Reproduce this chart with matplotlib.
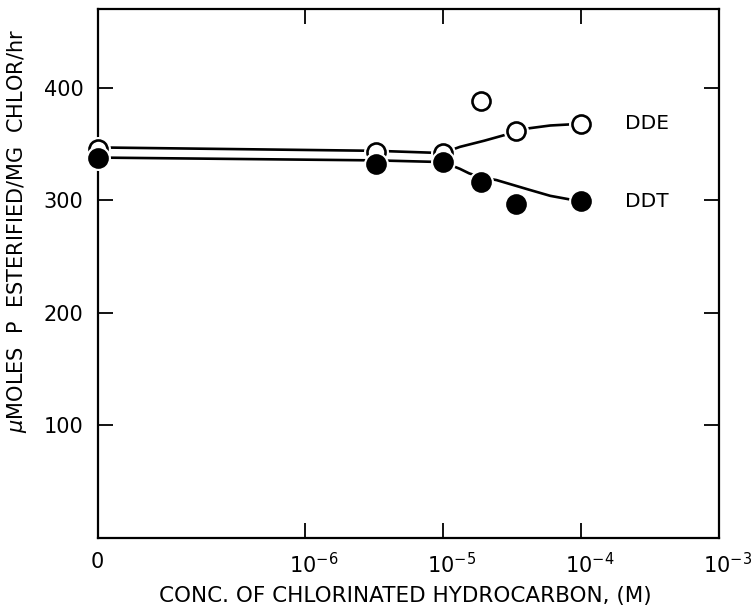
import matplotlib
matplotlib.use("Agg")
import matplotlib.pyplot as plt
import matplotlib.transforms as mtransforms
import numpy as np

# ---- data ----
ZERO_POS = 10 ** -7.5          # where the "0" concentration is drawn on the log axis
conc = [0, 3.3e-6, 1e-5, 1.9e-5, 3.4e-5, 1e-4]
dde = [346, 343, 342, 388, 362, 368]
ddt = [338, 332, 334, 316, 297, 299]

# hand-drawn fitted curves
dde_fit_x = [0, 3.3e-6, 1e-5, 1.33e-5, 2.0e-5, 2.8e-5, 3.4e-5, 4.2e-5, 6e-5, 1e-4]
dde_fit_y = [347, 344, 342, 347.5, 353, 358, 361.5, 364, 366.5, 368]
ddt_fit_x = [0, 3.3e-6, 1e-5, 1.33e-5, 1.55e-5, 1.9e-5, 2.45e-5, 4.2e-5, 6e-5, 1e-4]
ddt_fit_y = [338, 335.5, 334, 328, 324, 320.5, 318, 309.5, 304, 299]

xtick_vals = [0, 1e-6, 1e-5, 1e-4, 1e-3]
xtick_labels = ["0", "$10^{-6}$", "$10^{-5}$", "$10^{-4}$", "$10^{-3}$"]
ytick_vals = [100, 200, 300, 400]
series_labels = ["DDE", "DDT"]

plt.rcParams['font.family'] = ['DejaVu Sans']
plt.rcParams['mathtext.fontset'] = 'dejavusans'


def pos(v):
    return [ZERO_POS if x == 0 else x for x in v]


fig = plt.figure(figsize=(7.53, 6.10), dpi=100)
ax = fig.add_axes([97.5 / 753, 72 / 610, (719 - 97.5) / 753, (538 - 9) / 610])
ax.set_xscale('log')
ax.set_xlim(ZERO_POS, 1e-3)
ax.set_ylim(0, 470)

lw = 1.9
ax.plot(pos(dde_fit_x), dde_fit_y, color='black', lw=lw, zorder=2, solid_capstyle='butt')
ax.plot(pos(ddt_fit_x), ddt_fit_y, color='black', lw=lw, zorder=2, solid_capstyle='butt')

ms = 13
# white halos to make gaps between lines and markers
ax.plot(pos(conc), dde, 'o', ms=ms, mfc='white', mec='white', mew=5, zorder=3, clip_on=False)
ax.plot(pos(conc), dde, 'o', ms=ms, mfc='white', mec='black', mew=1.9, zorder=4, clip_on=False)
ax.plot(pos(conc), ddt, 'o', ms=ms, mfc='white', mec='white', mew=5, zorder=5, clip_on=False)
ax.plot(pos(conc), ddt, 'o', ms=ms, mfc='black', mec='black', mew=1.9, zorder=6, clip_on=False)

ax.text(10 ** -3.68, dde[-1], series_labels[0], fontsize=14.5, va='center', ha='left')
ax.text(10 ** -3.68, ddt[-1], series_labels[1], fontsize=14.5, va='center', ha='left')

ax.set_xticks(pos(xtick_vals))
ax.set_xticklabels(xtick_labels, fontsize=15)
ax.minorticks_off()
ax.set_yticks(ytick_vals)
ax.set_yticklabels([str(v) for v in ytick_vals], fontsize=15)
ax.tick_params(axis='both', direction='in', top=True, right=True, length=11, width=1.3)
ax.tick_params(axis='x', pad=10)
ax.tick_params(axis='y', pad=10)
# hide tick marks at the axis ends (they coincide with the frame)
for t in (ax.xaxis.get_major_ticks()[0], ax.xaxis.get_major_ticks()[-1]):
    t.tick1line.set_visible(False)
    t.tick2line.set_visible(False)
# shift superscripted labels so the "10" sits centred on the tick
for lab in ax.get_xticklabels()[1:]:
    lab.set_transform(lab.get_transform() + mtransforms.ScaledTranslation(9 / 100, 0, fig.dpi_scale_trans))

for s in ax.spines.values():
    s.set_linewidth(1.6)

ax.set_xlabel("CONC. OF CHLORINATED HYDROCARBON, (M)", fontsize=15.5)
ax.xaxis.set_label_coords(0.495, -0.09)
ax.set_ylabel("$\\mu$MOLES  P  ESTERIFIED/MG  CHLOR/hr", fontsize=15)
ax.yaxis.set_label_coords(-0.11, 0.58)

fig.savefig("out.png", dpi=100)
